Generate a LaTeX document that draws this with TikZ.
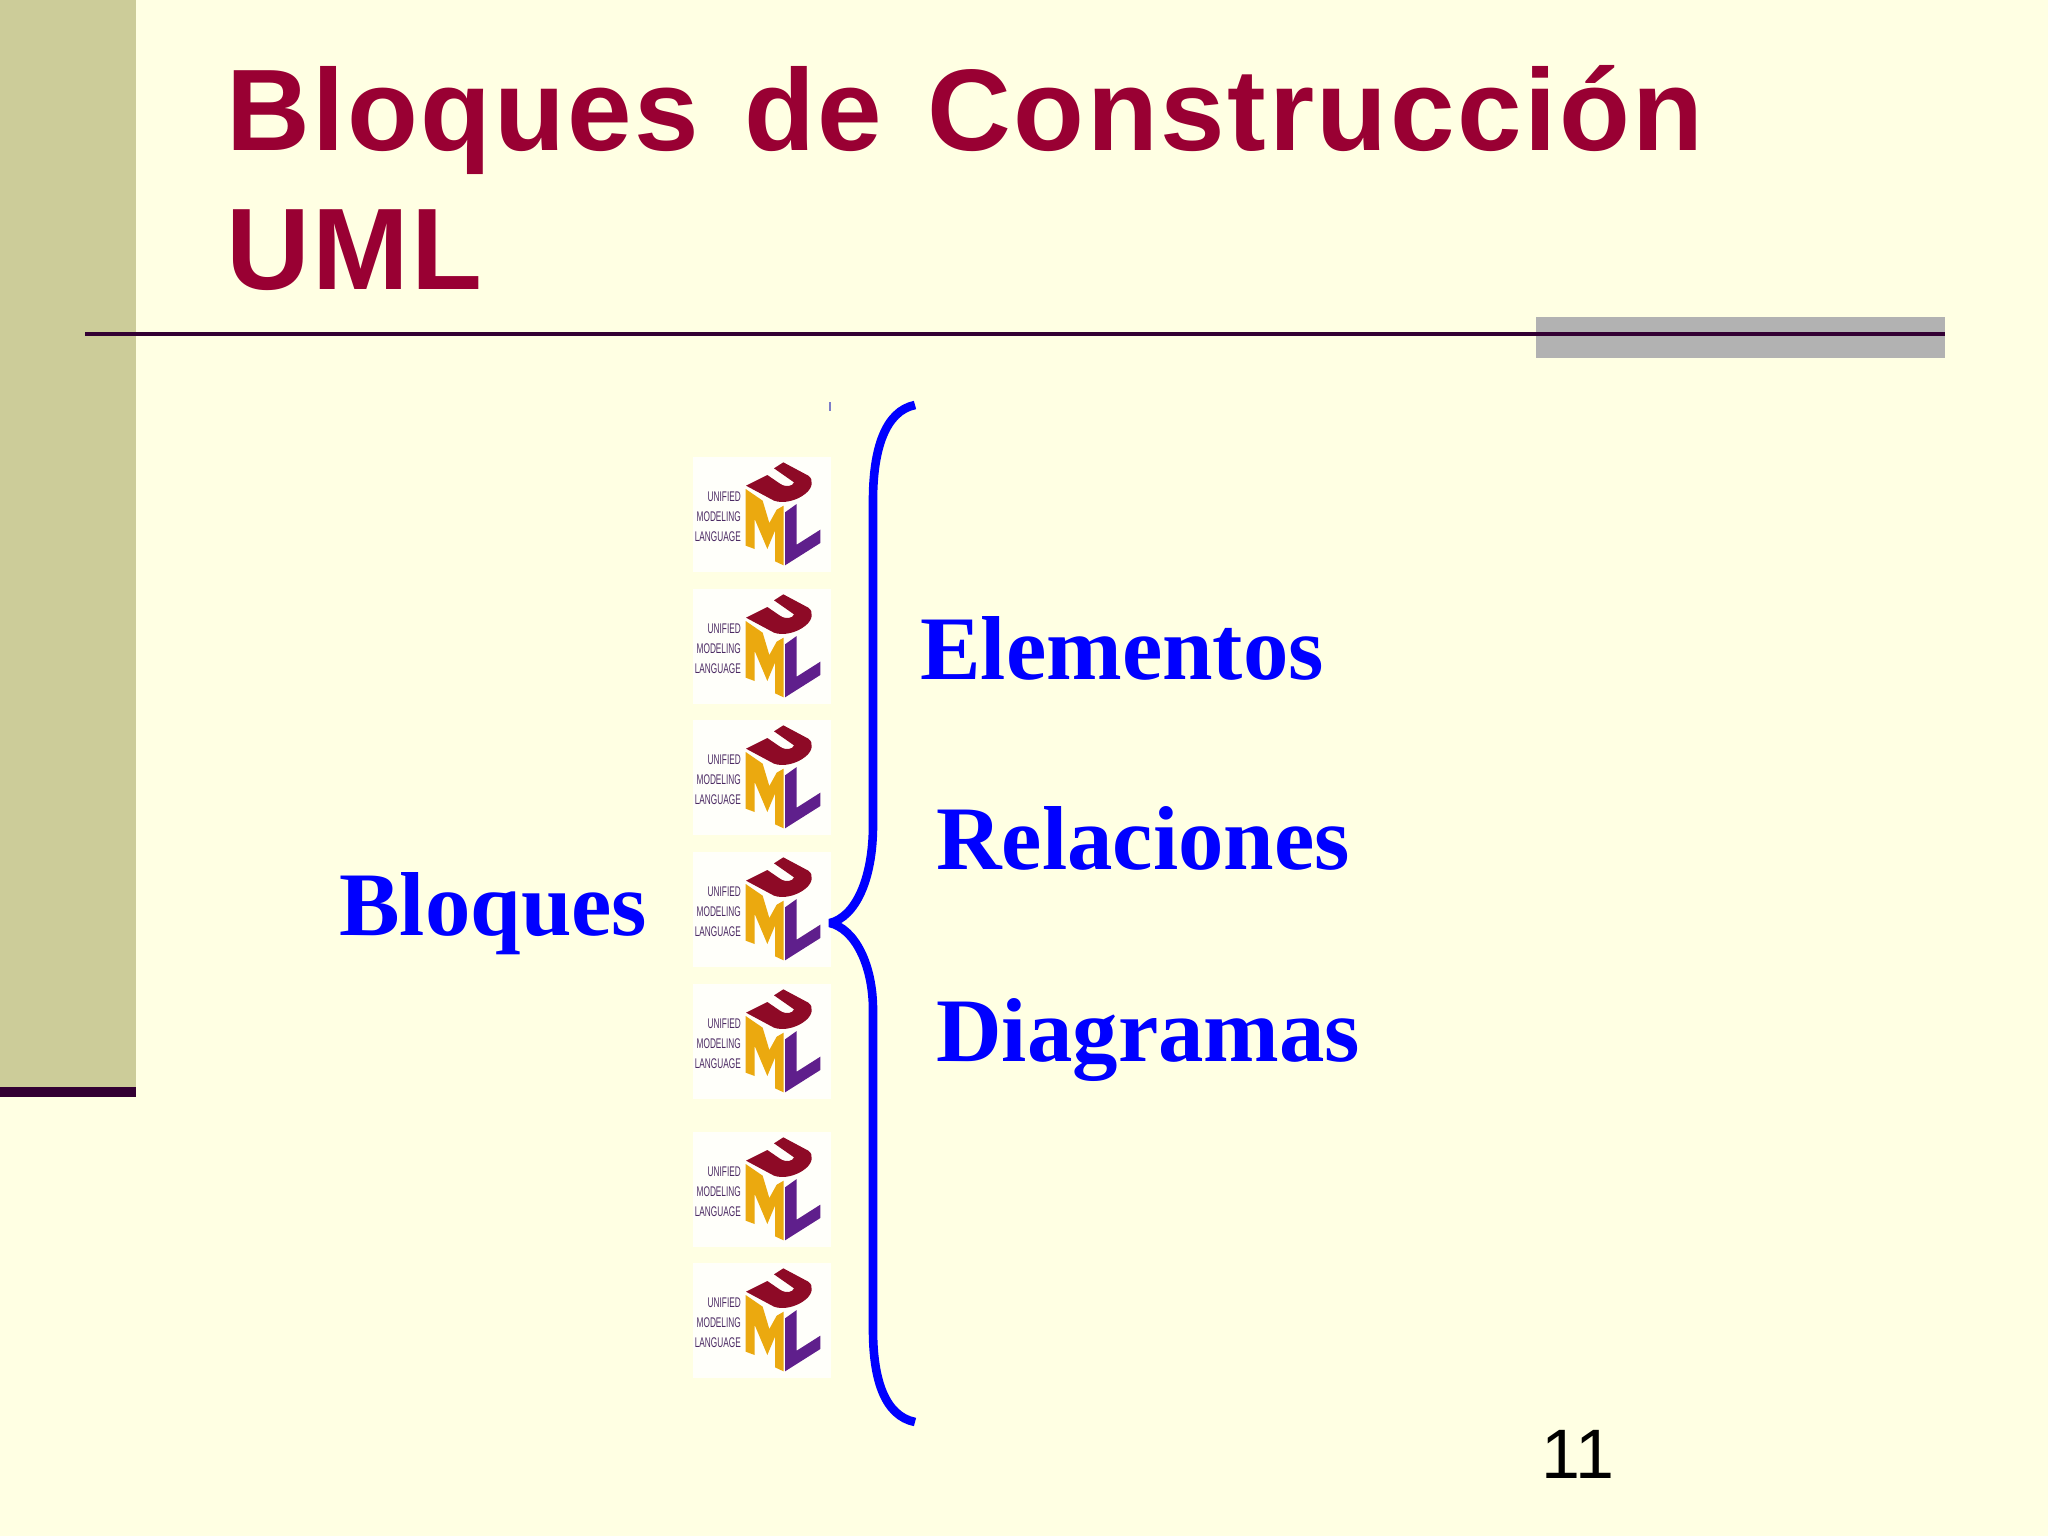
\documentclass[tikz,border=0pt]{standalone}
\usepackage{fontspec}
\setmainfont{Liberation Sans}
\newfontfamily\serifb[Ligatures=TeX]{Liberation Serif}
\newfontfamily\titlef[LetterSpace=2.2,WordSpace=1.3]{Liberation Sans}
\definecolor{bg}{HTML}{FFFFE3}
\definecolor{band}{HTML}{CCCC99}
\definecolor{dark}{HTML}{330033}
\definecolor{titlec}{HTML}{990033}
\definecolor{barg}{HTML}{B2B2B2}
\definecolor{blueb}{HTML}{0000FF}
\definecolor{logoU}{HTML}{8E0A26}
\definecolor{logoM}{HTML}{EBA90F}
\definecolor{logoL}{HTML}{5F1F8C}
\definecolor{logoT}{HTML}{4B2A63}
\tikzset{
  titletext/.style={anchor=base west,inner sep=0pt,text=titlec,font=\titlef\fontsize{58}{58}\selectfont\bfseries},
  bluetext/.style={anchor=base west,inner sep=0pt,text=blueb,font=\serifb\fontsize{45.4}{45.4}\selectfont\bfseries},
  numtext/.style={anchor=base west,inner sep=0pt,text=black,font=\fontsize{35}{35}\selectfont},
  logotext/.style={anchor=base east,inner sep=0pt,text=logoT,xscale=0.59,font=\fontsize{7}{7}\selectfont},
  brace/.style={draw=blueb,line width=4.3pt,line cap=butt,line join=bevel},
}
\newcommand{\umllogo}[2]{%
\begin{scope}[shift={(#1)},x=0.16667pt,y=-0.16667pt]
  \fill[white,opacity=0.85] (40,25) rectangle (453,369);
  \fill[logoU] (198,110) -- (262,78) -- (300,104) .. controls (318,116) and (338,112) .. (342,100) -- (282,58) -- (310,40) -- (385,80) .. controls (402,92) and (398,118) .. (375,135) .. controls (350,155) and (310,165) .. (282,155) -- cycle;
  \fill[logoM] (197,120) -- (197,290) -- (224,300) -- (224,210) -- (262,300) -- (285,245) -- (285,337) -- (311,349) -- (311,170) -- (290,182) -- (268,222) -- (248,155) -- cycle;
  \fill[logoL] (315,190) -- (350,165) -- (350,287) -- (421,242) -- (421,282) -- (315,349) -- cycle;
  \node[logotext] (#2a) at (183,156) {UNIFIED};
  \node[logotext] (#2b) at (183,216) {MODELING};
  \node[logotext] (#2c) at (183,278) {LANGUAGE};
\end{scope}}
\begin{document}
\begin{tikzpicture}[x=0.5pt,y=-0.5pt]
\useasboundingbox (0,0) rectangle (2048,1536);
\fill[bg] (0,0) rectangle (2048,1536);
\fill[band] (0,0) rectangle (136,1087);
\fill[dark] (0,1087) rectangle (136,1097);
\fill[barg] (1536,317) rectangle (1945,358);
\coordinate (ruleL) at (85,334);
\coordinate (ruleR) at (1945,334);
\draw[dark,line width=2pt] (ruleL) -- (ruleR);
\node[titletext] (t1) at (226,150) {Bloques de Construcción};
\node[titletext] (t2) at (226,289) {UML};
\fill[barg!70!blue] (829,402) rectangle (831,411);
\umllogo{680,449}{a}
\umllogo{680,581}{b}
\umllogo{680,712}{c}
\umllogo{680,844}{d}
\umllogo{680,976}{e}
\umllogo{680,1124}{f}
\umllogo{680,1255}{g}
\coordinate (braceTop) at (915,405);
\coordinate (braceTip) at (830,923);
\coordinate (braceBot) at (915,1422);
\draw[brace] (braceTop) .. controls (885,411) and (873,450) .. (873,500) -- (873,825) .. controls (873,880) and (855,917) .. (braceTip) .. controls (855,929) and (873,965) .. (873,1010) -- (873,1330) .. controls (873,1380) and (885,1416) .. (braceBot);
\node[bluetext] (el) at (920,679) {Elementos};
\node[bluetext] (re) at (936,869) {Relaciones};
\node[bluetext] (di) at (936,1061) {Diagramas};
\node[bluetext] (bl) at (339,935) {Bloques};
\node[numtext] (num) at (1541,1478) {11};
\end{tikzpicture}
\end{document}
